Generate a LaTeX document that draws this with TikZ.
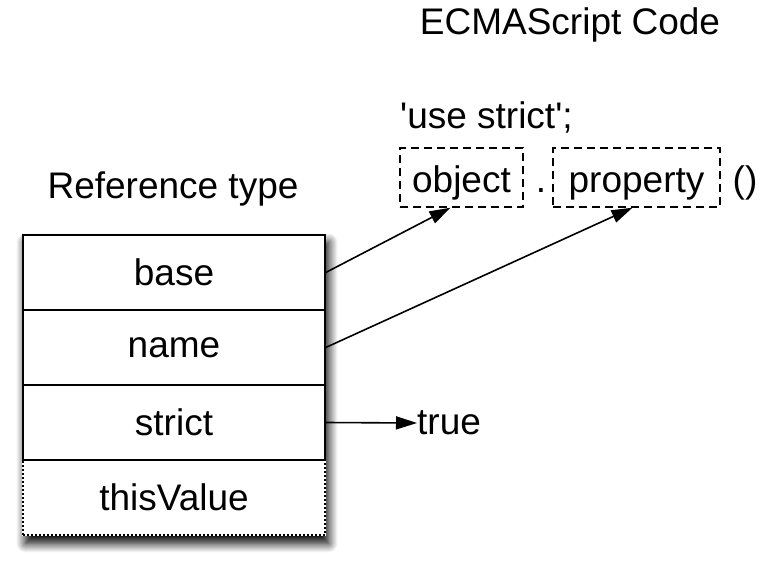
\documentclass[tikz,border=0pt]{standalone}
\usepackage{fontspec}
\setmainfont{Liberation Sans}
\usepackage{tikz}
\usetikzlibrary{arrows.meta, positioning, fit, backgrounds, shadows.blur}

\begin{document}
\begin{tikzpicture}[x=1pt, y=1pt,
  every node/.style={font=\fontsize{37}{44}\selectfont},
  field/.style={rectangle, draw, line width=1.5pt, fill=white, inner sep=0pt,
  minimum width=302pt, minimum height=75pt, align=center},
  part/.style={rectangle, draw, dashed, dash pattern=on 8pt off 5pt, line width=1.4pt,
  inner sep=0pt, minimum height=59pt, text height=34pt, text depth=5pt},
  link/.style={line width=1.6pt, -{Triangle[length=21pt, width=13pt]}}]
  \useasboundingbox (0,0) rectangle (770,566);

  \node[anchor=base] (title) at (570,531) {ECMAScript Code};
  \node[anchor=base west, inner sep=0pt] (strictline) at (400,437) {\textquotesingle use strict\textquotesingle;};
  \node[part, minimum width=123pt] (object) at (461.5,388.5) {object};
  \node[anchor=base] (dot) at (541,374) {.};
  \node[part, minimum width=167pt] (property) at (636.5,388.5) {property};
  \node[anchor=base] (call) at (745,374) {()};

  \node[anchor=base] (reftype) at (173,368) {Reference type};
  \node[field, dash pattern=on 2pt off 2pt, line width=1.2pt] (thisvalue) at (174,68.5) {thisValue};
  \node[field] (base) at (174,293.5) {base};
  \node[field] (name) at (174,218.5) {name};
  \node[field] (strict) at (174,143.5) {strict};
  \begin{scope}[on background layer]
    \node[fit=(base)(thisvalue), inner sep=0pt, fill=white,
      blur shadow={shadow xshift=3pt, shadow yshift=-8pt, shadow blur radius=9pt,
      shadow opacity=100, shadow blur steps=14}] (frame) {};
  \end{scope}

  \node[anchor=west, inner sep=0pt] (true) at (417,143) {true};

  \draw[link] (base.east) -- ([xshift=-11pt]object.south);
  \draw[link] (name.east) -- ([xshift=-4pt]property.south);
  \draw[link] (strict.east) -- (true.west);
\end{tikzpicture}
\end{document}
